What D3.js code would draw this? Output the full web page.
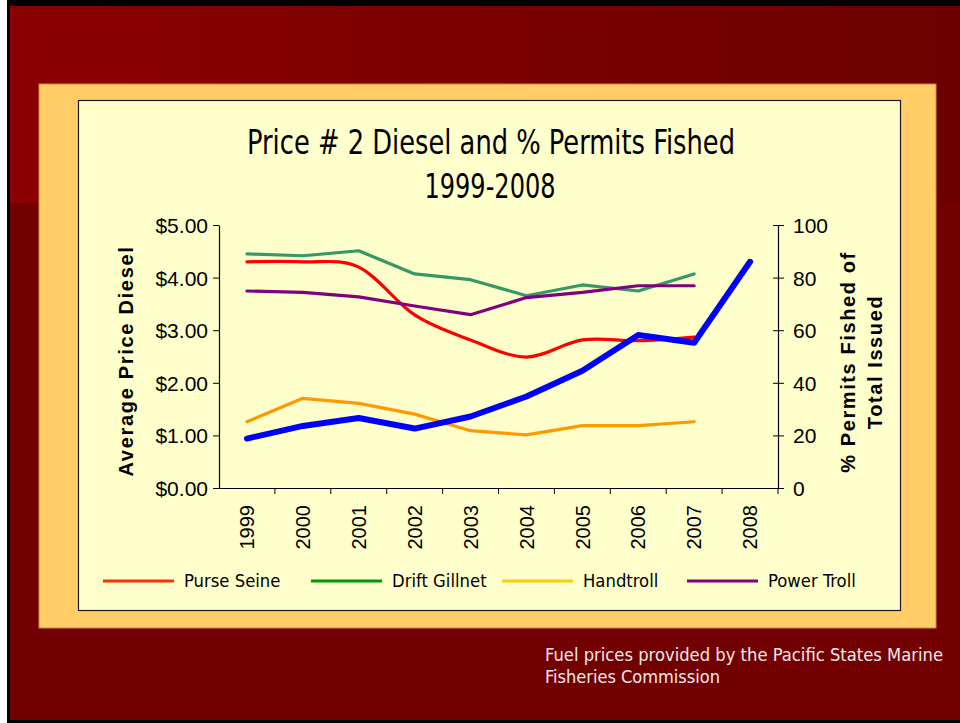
<!DOCTYPE html>
<html>
<head>
<meta charset="utf-8">
<script src="https://cdn.jsdelivr.net/npm/d3@7"></script>
<style>
  body { margin: 0; background: #fff; }
  svg { display: block; }
</style>
</head>
<body>
<script>
'use strict';
// chart data
const years = ['1999', '2000', '2001', '2002', '2003', '2004', '2005', '2006', '2007', '2008'];
const dieselPrice = [0.94, 1.18, 1.33, 1.13, 1.36, 1.74, 2.23, 2.91, 2.76, 4.30];   // left axis
const purseSeine = [86.0, 86.0, 84.0, 65.8, 56.3, 49.8, 56.3, 56.0, 57.4];          // right axis (%)
const driftGillnet = [89.0, 88.3, 90.2, 81.4, 79.2, 73.1, 77.2, 74.9, 81.4];
const handtroll = [25.2, 34.1, 32.2, 28.1, 21.8, 20.2, 23.7, 23.7, 25.2];
const powerTroll = [74.9, 74.4, 72.7, 69.2, 65.9, 72.4, 74.4, 76.9, 76.9];
const priceTicks = [0, 1, 2, 3, 4, 5];
const pctTicks = [0, 20, 40, 60, 80, 100];
const legendNames = ['Purse Seine', 'Drift Gillnet', 'Handtroll', 'Power Troll'];

(function () {
  const W = 960, H = 723;
  const svg = d3.select('body').append('svg').attr('width', W).attr('height', H);
  const humanist = '"DejaVu Sans Condensed", "DejaVu Sans", sans-serif';

  // slide background
  const defs = svg.append('defs');
  const grad = defs.append('linearGradient').attr('id', 'band').attr('x1', '0').attr('x2', '1').attr('y1', '0').attr('y2', '0');
  grad.append('stop').attr('offset', '0').attr('stop-color', '#8b0000');
  grad.append('stop').attr('offset', '1').attr('stop-color', '#6c0000');

  svg.append('rect').attr('x', 7).attr('y', 0).attr('width', W - 7).attr('height', H).attr('fill', '#000');
  svg.append('rect').attr('x', 10).attr('y', 6).attr('width', W - 10).attr('height', 714).attr('fill', '#730000');
  svg.append('rect').attr('x', 10).attr('y', 6).attr('width', W - 10).attr('height', 197).attr('fill', 'url(#band)');

  // orange frame and chart area
  svg.append('rect').attr('x', 39).attr('y', 84).attr('width', 897).attr('height', 544)
    .attr('fill', '#ffcc66').attr('stroke', '#d08a4a').attr('stroke-width', 1);
  svg.append('rect').attr('x', 78.5).attr('y', 100.5).attr('width', 822).attr('height', 510)
    .attr('fill', '#ffffcc').attr('stroke', '#1a1a1a').attr('stroke-width', 1.2);

  // title
  const title = svg.append('text').attr('text-anchor', 'middle')
    .attr('font-family', humanist).attr('font-size', 33).attr('fill', '#000')
    .attr('lengthAdjust', 'spacingAndGlyphs');
  title.append('tspan').attr('x', 491).attr('y', 154).attr('textLength', 488).attr('lengthAdjust', 'spacingAndGlyphs')
    .text('Price # 2 Diesel and % Permits Fished');
  title.append('tspan').attr('x', 490).attr('y', 198).attr('textLength', 131).attr('lengthAdjust', 'spacingAndGlyphs')
    .text('1999-2008');

  // scales
  const x = d3.scaleBand().domain(years).range([219, 778]).padding(0);
  const yL = d3.scaleLinear().domain([0, 5]).range([488, 225]);
  const yR = d3.scaleLinear().domain([0, 100]).range([488, 225]);
  const cx = (i) => x(years[i]) + x.bandwidth() / 2;

  const tickFont = '"Liberation Sans", Arial, sans-serif';

  // left axis
  const gL = svg.append('g').attr('transform', 'translate(219,0)')
    .call(d3.axisLeft(yL).tickValues(priceTicks).tickFormat(d3.format('$.2f')).tickSize(6).tickSizeOuter(0));
  // right axis
  const gR = svg.append('g').attr('transform', 'translate(778,0)')
    .call(d3.axisRight(yR).tickValues(pctTicks).tickSize(6).tickSizeOuter(0));
  gR.selectAll('.tick line').attr('x1', -5);
  // bottom axis
  const gB = svg.append('g').attr('transform', 'translate(0,488)')
    .call(d3.axisBottom(x).tickSize(0).tickSizeOuter(0));
  // tick marks at category boundaries
  gB.selectAll('.bound').data(years.slice(1)).enter().append('line').attr('class', 'bound')
    .attr('x1', (d) => x(d)).attr('x2', (d) => x(d)).attr('y1', 0).attr('y2', 6)
    .attr('stroke', '#000');
  gB.append('line').attr('x1', 778).attr('x2', 778).attr('y1', 0).attr('y2', 6).attr('stroke', '#000');

  [gL, gR, gB].forEach((g) => {
    g.selectAll('.domain').attr('stroke', '#000').attr('stroke-width', 1.2);
    g.selectAll('.tick line').attr('stroke', '#000');
    g.selectAll('text').attr('font-family', tickFont).attr('fill', '#000');
  });
  gL.selectAll('text').attr('font-size', 21).attr('x', -11).attr('dy', '0.36em');
  gR.selectAll('text').attr('font-size', 21).attr('x', 15).attr('dy', '0.36em');
  gB.selectAll('.tick text').attr('font-size', 20)
    .attr('transform', 'rotate(-90)').attr('text-anchor', 'end')
    .attr('x', -17).attr('y', 0).attr('dy', '0.36em');

  // axis titles
  svg.append('text').attr('transform', 'translate(133,361) rotate(-90)')
    .attr('text-anchor', 'middle').attr('font-family', tickFont).attr('font-weight', 'bold')
    .attr('font-size', 20).attr('letter-spacing', 1.7).attr('fill', '#000')
    .text('Average Price Diesel');
  const rt = svg.append('text').attr('transform', 'translate(855,362) rotate(-90)')
    .attr('text-anchor', 'middle').attr('font-family', tickFont).attr('font-weight', 'bold')
    .attr('font-size', 20).attr('letter-spacing', 1.6).attr('fill', '#000');
  rt.append('tspan').attr('x', 0).attr('y', 0).text('% Permits Fished of');
  rt.append('tspan').attr('x', 0).attr('y', 27).text('Total Issued');

  // series
  const series = [
    { vals: purseSeine, color: '#ff0000', w: 3.2, y: yR, curve: d3.curveCardinal.tension(0) },
    { vals: driftGillnet, color: '#339966', w: 3.2, y: yR, curve: d3.curveLinear },
    { vals: handtroll, color: '#ff9900', w: 3.2, y: yR, curve: d3.curveLinear },
    { vals: powerTroll, color: '#800080', w: 3.2, y: yR, curve: d3.curveLinear },
    { vals: dieselPrice, color: '#0000ff', w: 6, y: yL, curve: d3.curveLinear }
  ];
  series.forEach((s) => {
    const line = d3.line().x((d, i) => cx(i)).y((d) => s.y(d)).curve(s.curve);
    svg.append('path').datum(s.vals).attr('d', line)
      .attr('fill', 'none').attr('stroke', s.color).attr('stroke-width', s.w)
      .attr('stroke-linejoin', 'round').attr('stroke-linecap', 'round');
  });

  // legend
  const legendColors = ['#ff3300', '#009900', '#ffcc00', '#800080'];
  const legendX = [103, 311, 502, 687];
  const lg = svg.append('g');
  legendNames.forEach((name, i) => {
    lg.append('line').attr('x1', legendX[i]).attr('x2', legendX[i] + 71).attr('y1', 581).attr('y2', 581)
      .attr('stroke', legendColors[i]).attr('stroke-width', 3);
    lg.append('text').attr('x', legendX[i] + 81).attr('y', 587)
      .attr('font-family', humanist).attr('font-size', 18.3).attr('fill', '#000').text(name);
  });

  // footer note
  const note = svg.append('text').attr('font-family', humanist)
    .attr('font-size', 18).attr('fill', '#f4e8e8');
  note.append('tspan').attr('x', 545).attr('y', 661).attr('textLength', 398).attr('lengthAdjust', 'spacingAndGlyphs')
    .text('Fuel prices provided by the Pacific States Marine');
  note.append('tspan').attr('x', 545).attr('y', 683).attr('textLength', 175).attr('lengthAdjust', 'spacingAndGlyphs')
    .text('Fisheries Commission');
})();
</script>
</body>
</html>
